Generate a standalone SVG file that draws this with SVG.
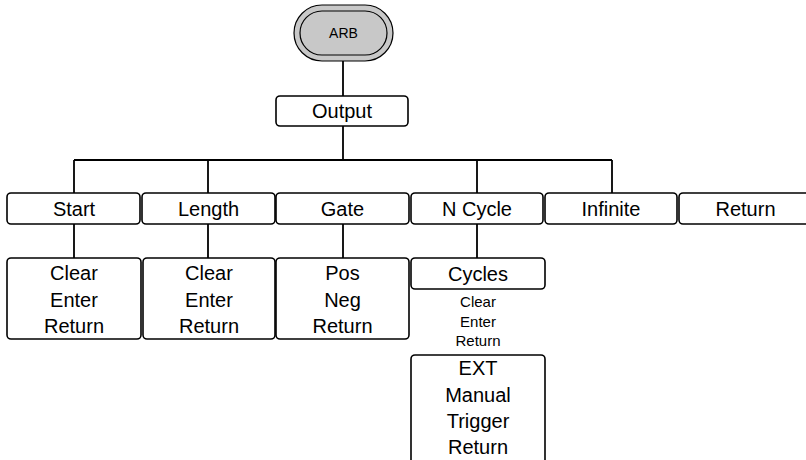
<svg xmlns="http://www.w3.org/2000/svg" width="806" height="460" viewBox="0 0 806 460">
<style>
.box{fill:#fff;stroke:#000;stroke-width:1.6}
.t{font-family:"Liberation Sans",Arial,sans-serif;font-size:20px;fill:#000;text-anchor:middle}
.s{font-family:"Liberation Sans",Arial,sans-serif;font-size:15px;fill:#000;text-anchor:middle}
.c{fill:none;stroke:#000;stroke-width:1.8}
</style>
<rect width="806" height="460" fill="#fff"/>
<g id="connectors">
<path class="c" d="M343 61V96M343 126V160M74 160H612M74 160V193M208 160V193M477 160V193M612 160V193M74 224V258M208 224V258M343 224V258M477 224V258"/>
</g>
<g id="arb">
<rect x="294" y="5" width="99" height="56" rx="28" fill="#c8c8c8" stroke="#000" stroke-width="1.2"/>
<rect x="300" y="11" width="87" height="44" rx="22" fill="#c8c8c8" stroke="#000" stroke-width="1.2"/>
<text x="343.5" y="38" class="t" style="font-size:14px">ARB</text>
</g>
<g id="output">
<rect class="box" x="276" y="96" width="132" height="30" rx="4"/>
<text x="342" y="118" class="t">Output</text>
</g>
<g id="start">
<rect class="box" x="7" y="193" width="133" height="31" rx="4"/>
<text x="74" y="216" class="t">Start</text>
</g>
<g id="length">
<rect class="box" x="142" y="193" width="133" height="31" rx="4"/>
<text x="208.5" y="216" class="t">Length</text>
</g>
<g id="gate">
<rect class="box" x="276" y="193" width="133" height="31" rx="4"/>
<text x="342.5" y="216" class="t">Gate</text>
</g>
<g id="ncycle">
<rect class="box" x="411" y="193" width="132" height="31" rx="4"/>
<text x="477" y="216" class="t">N Cycle</text>
</g>
<g id="infinite">
<rect class="box" x="545" y="193" width="132" height="31" rx="4"/>
<text x="611" y="216" class="t">Infinite</text>
</g>
<g id="return">
<rect class="box" x="679" y="193" width="133" height="31" rx="4"/>
<text x="745.5" y="216" class="t">Return</text>
</g>
<g id="start-sub">
<rect class="box" x="7" y="258" width="134" height="81" rx="4"/>
<text x="74" y="280" class="t">Clear</text>
<text x="74" y="307" class="t">Enter</text>
<text x="74" y="333" class="t">Return</text>
</g>
<g id="length-sub">
<rect class="box" x="143" y="258" width="132" height="81" rx="4"/>
<text x="209" y="280" class="t">Clear</text>
<text x="209" y="307" class="t">Enter</text>
<text x="209" y="333" class="t">Return</text>
</g>
<g id="gate-sub">
<rect class="box" x="276" y="258" width="133" height="81" rx="4"/>
<text x="342.5" y="280" class="t">Pos</text>
<text x="342.5" y="307" class="t">Neg</text>
<text x="342.5" y="333" class="t">Return</text>
</g>
<g id="cycles">
<rect class="box" x="411" y="258" width="134" height="31" rx="4"/>
<text x="478" y="281" class="t">Cycles</text>
<text x="478" y="307" class="s">Clear</text>
<text x="478" y="327" class="s">Enter</text>
<text x="478" y="346" class="s">Return</text>
</g>
<g id="trigger">
<rect class="box" x="411" y="355" width="134" height="115" rx="4"/>
<text x="478" y="375" class="t">EXT</text>
<text x="478" y="402" class="t">Manual</text>
<text x="478" y="428" class="t">Trigger</text>
<text x="478" y="454" class="t">Return</text>
</g>
</svg>
